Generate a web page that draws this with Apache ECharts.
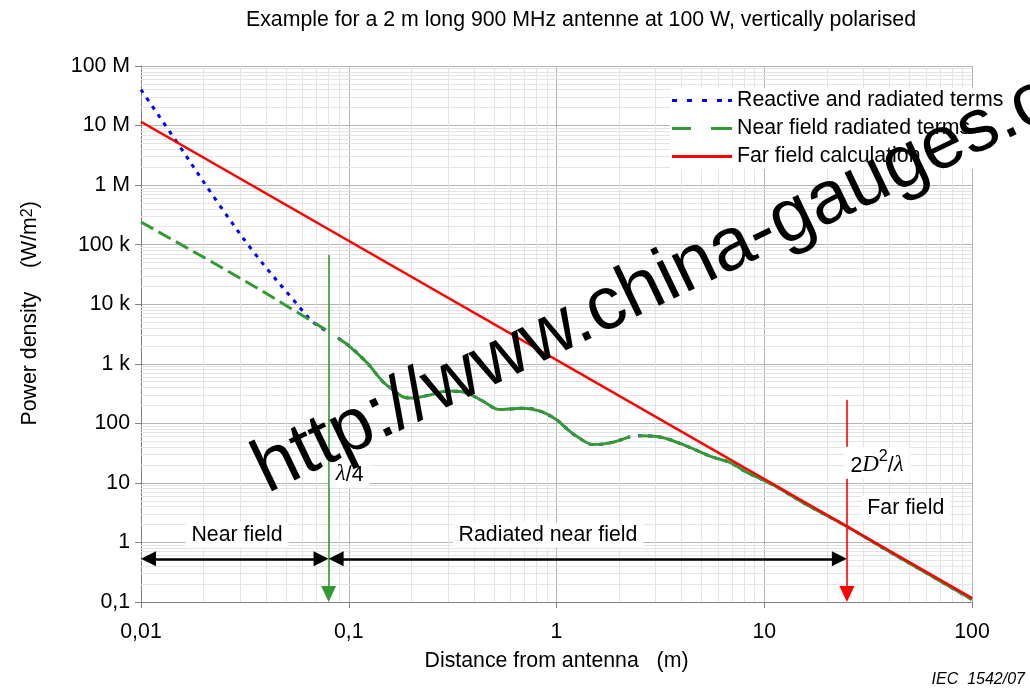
<!DOCTYPE html>
<html><head><meta charset="utf-8">
<script src="https://cdn.jsdelivr.net/npm/echarts@6/dist/echarts.min.js"></script>
<style>html,body{margin:0;padding:0;background:#fff}#c{width:1030px;height:691px}</style>
</head><body><div id="c"></div>
<script>
// ---- tick labels ----
const xTickLabels = ['0,01', '0,1', '1', '10', '100'];
const yTickLabels = ['0,1', '1', '10', '100', '1 k', '10 k', '100 k', '1 M', '10 M', '100 M'];

// ---- series values [distance m, power density W/m2] ----
const reactiveNear = [[0.01, 4.0e7], [0.0146, 5.8e6], [0.0235, 5.0e5], [0.0354, 7.0e4], [0.0551, 1.1e4], [0.0673, 5.0e3], [0.0786, 3.5e3]];
const radiatedNear = [[0.01, 2.4e5], [0.0208, 5.7e4], [0.0382, 1.68e4], [0.063, 5.8e3], [0.0786, 3.6e3]];
const radiatedShared = [[0.0887, 2700], [0.1014, 1930], [0.1225, 1040], [0.146, 500], [0.163, 366], [0.1866, 272], [0.205, 266],
  [0.246, 300], [0.30, 348], [0.351, 338], [0.40, 285], [0.443, 235], [0.535, 170], [0.62, 176], [0.69, 180], [0.834, 160],
  [1.0, 115], [1.135, 78], [1.255, 60], [1.5, 44], [1.81, 47], [2.26, 60], null,
  [2.47, 62], [3.05, 60], [3.93, 46], [5.66, 27], [6.84, 22], [8.26, 15], [11, 9.3], [15, 4.9], [25, 1.85], [40, 0.70], [60, 0.31], [100, 0.11]];
const farField = [[0.01, 1.16e7], [100, 0.116]];

// ---- annotations (data units) ----
const lambdaQuarter = 0.08;
const farLimit = 25;
const arrowLevel = 0.53;
const annoLabels = [
  { name: 'Near field', at: [0.029, 1.35] },
  { name: 'Radiated near field', at: [0.91, 1.35] },
  { name: 'Far field', at: [48, 3.7] },
  { name: 'lq', at: [0.101, 15.4] },
  { name: 'dd', at: [34.9, 21.8] }
];

const minorX = [], minorY = [];
for (let k = -2; k < 2; k++) for (let m = 2; m <= 9; m++) minorX.push(+(m * Math.pow(10, k)).toPrecision(3));
for (let k = -1; k < 8; k++) for (let m = 2; m <= 9; m++) minorY.push(+(m * Math.pow(10, k)).toPrecision(3));

const FONT = 'Liberation Sans';
const FS = 21.3;
const BLUE = '#0000ff', GREEN = '#339933', RED = '#ff0000';
const ICON_DOT = 'path://M0,0h5v3h-5zM15,0h5v3h-5zM30,0h5v3h-5zM45,0h5v3h-5zM56,0h4v3h-4z';
const ICON_DASH = 'path://M0,0h19v3h-19zM39,0h21v3h-21z';
const ICON_SOLID = 'path://M0,0h60v3h-60z';
const chart = echarts.init(document.getElementById('c'));
chart.setOption({
  animation: false,
  backgroundColor: '#fff',
  textStyle: { fontFamily: FONT },
  title: {
    text: 'Example for a 2 m long 900 MHz antenne at 100 W, vertically polarised',
    left: 576, top: 5, textAlign: 'center',
    textStyle: { fontFamily: FONT, fontSize: FS, fontWeight: 'normal', color: '#000' }
  },
  grid: { left: 141, right: 58, top: 66, bottom: 89 },
  legend: {
    z: 20,
    data: [
      { name: 'Reactive and radiated terms', icon: ICON_DOT, itemStyle: { color: BLUE, borderWidth: 0 } },
      { name: 'Near field radiated terms', icon: ICON_DASH, itemStyle: { color: GREEN, borderWidth: 0 } },
      { name: 'Far field calculation', icon: ICON_SOLID, itemStyle: { color: RED, borderWidth: 0 } }
    ],
    orient: 'vertical', left: 670, top: 88,
    itemWidth: 60, itemHeight: 3, itemGap: 7,
    backgroundColor: '#fff', padding: [2, 2, 2, 2],
    textStyle: { fontFamily: FONT, fontSize: FS, color: '#000' }
  },
  xAxis: {
    type: 'log', logBase: 10, min: 0.01, max: 100,
    name: 'Distance from antenna   (m)', nameLocation: 'middle', nameGap: 49,
    nameTextStyle: { fontFamily: FONT, fontSize: FS, color: '#000' },
    axisLine: { show: true, onZero: false, lineStyle: { color: '#808080', width: 1 } },
    axisTick: { show: true, length: 6, lineStyle: { color: '#808080' } },
    axisLabel: {
      margin: 20, fontFamily: FONT, fontSize: FS, color: '#000',
      formatter: v => xTickLabels[Math.round(Math.log10(v)) + 2]
    },
    splitLine: { show: true, lineStyle: { color: '#b4b4b4', width: 1 } }
  },
  yAxis: {
    type: 'log', logBase: 10, min: 0.1, max: 1e8,
    name: '       Power density    (W/m{s|2})', nameLocation: 'middle', nameGap: 100,
    nameTextStyle: { fontFamily: FONT, fontSize: FS, color: '#000', rich: { s: { fontSize: 16, verticalAlign: 'top', fontFamily: FONT, color: '#000' } } },
    axisLine: { show: true, onZero: false, lineStyle: { color: '#808080', width: 1 } },
    axisTick: { show: true, length: 6, lineStyle: { color: '#808080' } },
    axisLabel: {
      margin: 11, fontFamily: FONT, fontSize: FS, color: '#000',
      formatter: v => yTickLabels[Math.round(Math.log10(v)) + 1]
    },
    splitLine: { show: true, lineStyle: { color: '#b4b4b4', width: 1 } }
  },
  graphic: [
    {
      type: 'text', x: 242, y: 441, rotation: 0.447, z: 100, silent: true,
      style: { text: 'http://www.china-gauges.com', fontFamily: FONT, fontSize: 75, fill: '#000', textAlign: 'left', textVerticalAlign: 'alphabetic' }
    },
    {
      type: 'text', right: 5, bottom: 3, z: 100, silent: true,
      style: { text: 'IEC  1542/07', fontFamily: FONT, fontSize: 16, fontStyle: 'italic', fill: '#000' }
    }
  ],
  series: [
    {
      type: 'line', name: 'minor grid', data: [], z: 1, silent: true,
      markLine: {
        z: 1, silent: true, symbol: 'none', animation: false, label: { show: false },
        lineStyle: { color: '#e4e4e4', width: 1, type: 'solid' },
        emphasis: { disabled: true },
        data: minorX.map(v => ({ xAxis: v })).concat(minorY.map(v => ({ yAxis: v })))
      }
    },
    {
      type: 'line', name: 'Reactive and radiated terms', z: 3,
      data: reactiveNear.concat([null], radiatedShared), smooth: 0.35,
      showSymbol: false, symbol: 'none', connectNulls: false,
      lineStyle: { color: BLUE, width: 3, type: [4, 6] }, itemStyle: { color: BLUE }
    },
    {
      type: 'line', name: 'Near field radiated terms', z: 4,
      data: radiatedNear, showSymbol: false, symbol: 'none',
      lineStyle: { color: GREEN, width: 3, type: [14, 6] }, itemStyle: { color: GREEN }
    },
    {
      type: 'line', name: 'Near field radiated terms (cont.)', z: 4,
      data: radiatedShared, smooth: 0.35, showSymbol: false, symbol: 'none', connectNulls: false,
      lineStyle: { color: GREEN, width: 3, type: 'solid' }, itemStyle: { color: GREEN }
    },
    {
      type: 'line', name: 'Far field calculation', z: 5,
      data: farField, showSymbol: false, symbol: 'none',
      lineStyle: { color: RED, width: 2.5 }, itemStyle: { color: RED }
    },
    {
      type: 'line', name: 'annotations', data: [], z: 6, silent: true,
      markLine: {
        z: 6, silent: true, animation: false, label: { show: false }, emphasis: { disabled: true },
        symbol: ['none', 'none'],
        data: [
          [{ coord: [lambdaQuarter, 67000], symbol: 'none', lineStyle: { color: GREEN, width: 1.6, type: 'solid' } },
           { coord: [lambdaQuarter, 0.136], symbol: 'triangle', symbolSize: [15, 16] }],
          [{ coord: [farLimit, 250], symbol: 'none', lineStyle: { color: RED, width: 1.6, type: 'solid' } },
           { coord: [farLimit, 0.136], symbol: 'triangle', symbolSize: [15, 16] }],
          [{ coord: [0.01087, arrowLevel], symbol: 'triangle', symbolSize: [15, 15], lineStyle: { color: '#000', width: 2.5, type: 'solid' } },
           { coord: [lambdaQuarter / 1.087, arrowLevel], symbol: 'triangle', symbolSize: [15, 15] }],
          [{ coord: [lambdaQuarter * 1.087, arrowLevel], symbol: 'triangle', symbolSize: [15, 15], lineStyle: { color: '#000', width: 2.5, type: 'solid' } },
           { coord: [farLimit / 1.087, arrowLevel], symbol: 'triangle', symbolSize: [15, 15] }]
        ]
      },
      markPoint: {
        z: 7, silent: true, animation: false, symbol: 'rect', symbolSize: 1,
        itemStyle: { color: 'rgba(0,0,0,0)' },
        label: {
          show: true, position: 'inside', color: '#000', fontFamily: FONT, fontSize: FS,
          backgroundColor: '#fff', padding: [2, 6],
          formatter: p => p.name === 'lq' ? '{i|λ}{n|/4}' : (p.name === 'dd' ? '{n|2}{i|D}{s|2}{n|/}{i|λ}' : p.name),
          rich: {
            i: { fontFamily: 'Liberation Serif', fontStyle: 'italic', fontSize: 23, color: '#000', lineHeight: 28, verticalAlign: 'bottom' },
            n: { fontFamily: FONT, fontSize: FS, color: '#000', lineHeight: 28, verticalAlign: 'bottom' },
            s: { fontFamily: FONT, fontSize: 16, color: '#000', lineHeight: 28, verticalAlign: 'top' }
          }
        },
        data: annoLabels.map(a => ({ name: a.name, coord: a.at, value: 0 }))
      }
    }
  ]
});
</script></body></html>
